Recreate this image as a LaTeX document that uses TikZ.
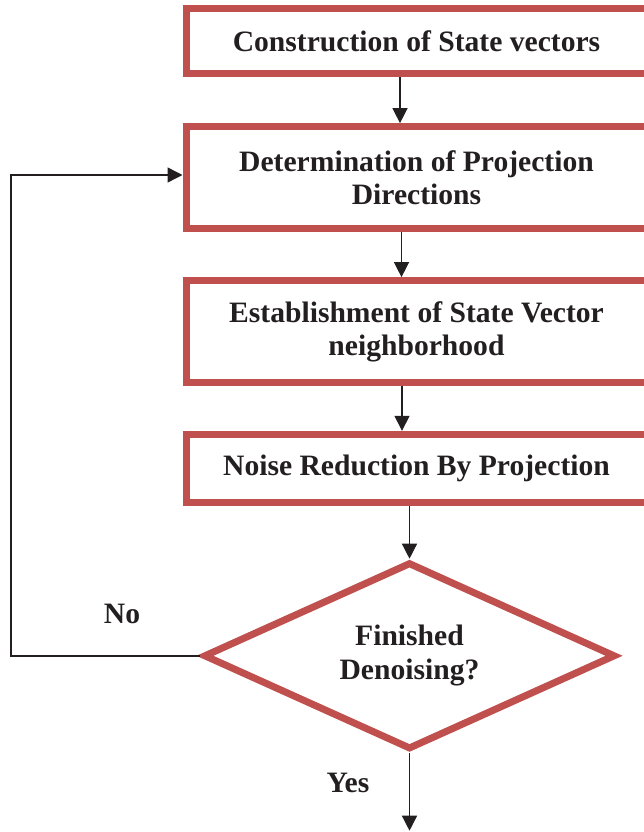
\documentclass[tikz,border=0pt]{standalone}
\usepackage{fontspec}
\setmainfont{Liberation Serif}
\usetikzlibrary{arrows.meta,shapes.geometric}
\definecolor{boxred}{HTML}{C0504D}
\definecolor{ink}{HTML}{231F20}
\begin{document}
\begin{tikzpicture}[x=1pt,y=-1pt,
  txt/.style={font=\fontsize{29.6}{33.8}\selectfont\bfseries, text=ink, align=center},
  stepbox/.style={txt, draw=boxred, line width=7pt, fill=white, minimum width=461pt, inner sep=0pt, anchor=west},
  decide/.style={txt, diamond, draw=boxred, line width=7pt, fill=white, minimum width=412pt, minimum height=187.2pt, shape aspect=2.2, inner sep=0pt},
  arr/.style={draw=ink, line width=1.4pt, -{Triangle[length=15pt,width=15pt]}},
  lbl/.style={txt, anchor=base}]
\useasboundingbox (0,0) rectangle (643,832);
\node[stepbox, minimum height=65.2pt] (b1) at (182.5,41.4) {Construction of State vectors};
\node[stepbox, minimum height=102.3pt] (b2) at (182.5,177.8) {Determination of Projection\\Directions};
\node[stepbox, minimum height=102.3pt] (b3) at (182.5,331.8) {Establishment of State Vector\\neighborhood};
\node[stepbox, minimum height=68.4pt] (b4) at (182.5,468.5) {Noise Reduction By Projection};
\node[decide] (d) at (409.5,655.8) {Finished\\Denoising?};
\coordinate (x1) at (400,0);
\coordinate (x2) at (401.5,0);
\coordinate (x3) at (402,0);
\coordinate (lp) at (11,175);
\coordinate (fin) at (409.5,830.7);
\draw[arr] (b1.south -| x1) -- (b2.north -| x1);
\draw[arr] (b2.south -| x2) -- (b3.north -| x2);
\draw[arr] (b3.south -| x3) -- (b4.north -| x3);
\draw[arr] (b4.south -| d.north) -- (d.north);
\draw[arr] (d.south) -- (fin);
\draw[arr] (d.west) -| (lp) -- (lp -| b2.west);
\node[lbl] (no) at (122,623) {No};
\node[lbl] (yes) at (348,792) {Yes};
\end{tikzpicture}
\end{document}
